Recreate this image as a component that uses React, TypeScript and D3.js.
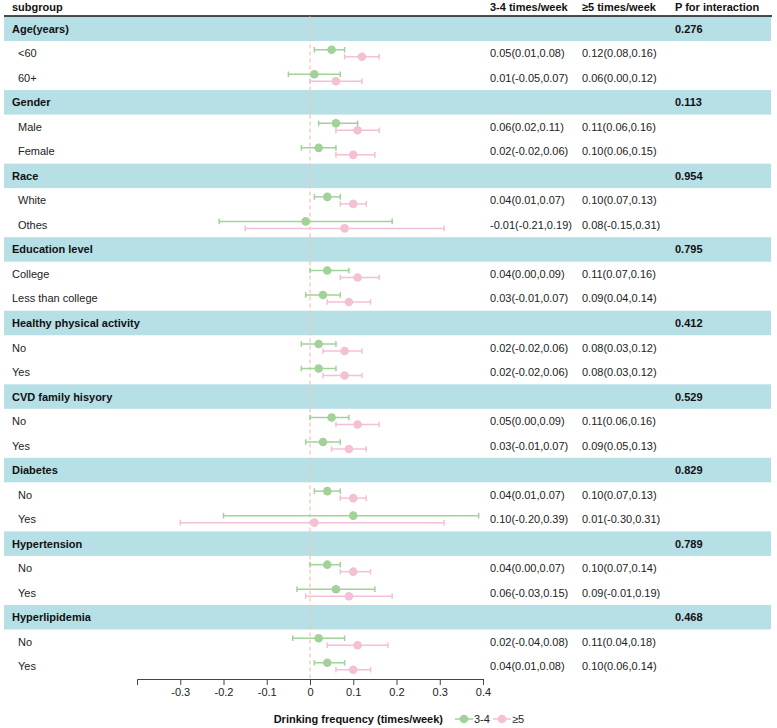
import React, { useEffect, useRef } from "react";
import * as d3 from "d3";

// subgroup table: group headers with their p for interaction, then sub rows
const groups = [
  "Age(years)",
  "Gender",
  "Race",
  "Education level",
  "Healthy physical activity",
  "CVD family hisyory",
  "Diabetes",
  "Hypertension",
  "Hyperlipidemia",
];
const pInteraction = ["0.276", "0.113", "0.954", "0.795", "0.412", "0.529", "0.829", "0.789", "0.468"];
const subLabels = [
  ["<60", "60+"],
  ["Male", "Female"],
  ["White", "Othes"],
  ["College", "Less than college"],
  ["No", "Yes"],
  ["No", "Yes"],
  ["No", "Yes"],
  ["No", "Yes"],
  ["No", "Yes"],
];
// sub labels of these groups carry a leading indent
const indented = [true, true, true, false, false, false, true, true, true];
// [estimate, lower, upper] for 3-4 times/week
const est34 = [
  [[0.05, 0.01, 0.08], [0.01, -0.05, 0.07]],
  [[0.06, 0.02, 0.11], [0.02, -0.02, 0.06]],
  [[0.04, 0.01, 0.07], [-0.01, -0.21, 0.19]],
  [[0.04, 0.0, 0.09], [0.03, -0.01, 0.07]],
  [[0.02, -0.02, 0.06], [0.02, -0.02, 0.06]],
  [[0.05, 0.0, 0.09], [0.03, -0.01, 0.07]],
  [[0.04, 0.01, 0.07], [0.1, -0.2, 0.39]],
  [[0.04, 0.0, 0.07], [0.06, -0.03, 0.15]],
  [[0.02, -0.04, 0.08], [0.04, 0.01, 0.08]],
];
// [estimate, lower, upper] for >=5 times/week
const est5 = [
  [[0.12, 0.08, 0.16], [0.06, 0.0, 0.12]],
  [[0.11, 0.06, 0.16], [0.1, 0.06, 0.15]],
  [[0.1, 0.07, 0.13], [0.08, -0.15, 0.31]],
  [[0.11, 0.07, 0.16], [0.09, 0.04, 0.14]],
  [[0.08, 0.03, 0.12], [0.08, 0.03, 0.12]],
  [[0.11, 0.06, 0.16], [0.09, 0.05, 0.13]],
  [[0.1, 0.07, 0.13], [0.01, -0.3, 0.31]],
  [[0.1, 0.07, 0.14], [0.09, -0.01, 0.19]],
  [[0.11, 0.04, 0.18], [0.1, 0.06, 0.14]],
];
const xTicks = [-0.3, -0.2, -0.1, 0, 0.1, 0.2, 0.3, 0.4];
const seriesNames = ["3-4", "≥5"];

const W = 777;
const H = 728;
const FONT = "Arial, 'Liberation Sans', sans-serif";
const GREEN = "#a2d19a";
const PINK = "#f3c0d4";
const BAND = "#b6dfe6";

// plain hyphen for negatives, not the unicode minus d3.format gives
const f2 = (n: number) => n.toFixed(2);
const fmt = (v: number[]) => `${f2(v[0])}(${f2(v[1])},${f2(v[2])})`;

type Row =
  | { kind: "group"; label: string; p: string }
  | { kind: "sub"; label: string; indent: boolean; a: number[]; b: number[] };

const rows: Row[] = [];
groups.forEach((g, i) => {
  rows.push({ kind: "group", label: g, p: pInteraction[i] });
  subLabels[i].forEach((s, j) => {
    rows.push({ kind: "sub", label: s, indent: indented[i], a: est34[i][j], b: est5[i][j] });
  });
});

export default function App() {
  const ref = useRef<SVGSVGElement>(null);

  useEffect(() => {
    const svg = d3.select(ref.current);
    svg.selectAll("*").remove();
    svg.style("font-family", FONT);

    const top = 16.5;
    const bottom = 678.5;
    const y = d3
      .scaleBand<number>()
      .domain(d3.range(rows.length))
      .range([top, bottom]);
    const x = d3.scaleLinear().domain([-0.4, 0.4]).range([137, 483]);

    const colA = 490;
    const colB = 582;
    const colP = 675;

    // header
    const head = svg.append("g").attr("font-size", 11).attr("font-weight", "bold").attr("fill", "#111");
    head.append("text").attr("x", 12).attr("y", 11).text("subgroup");
    head.append("text").attr("x", colA).attr("y", 11).text("3-4 times/week");
    head.append("text").attr("x", colB).attr("y", 11).text("≥5 times/week");
    head.append("text").attr("x", colP).attr("y", 11).text("P for interaction");

    // group bands
    svg
      .append("g")
      .selectAll("rect")
      .data(rows.map((r, i) => ({ r, i })).filter((d) => d.r.kind === "group"))
      .enter()
      .append("rect")
      .attr("x", 4)
      .attr("width", 767)
      .attr("y", (d) => y(d.i)!)
      .attr("height", y.bandwidth())
      .attr("fill", BAND);

    svg
      .append("line")
      .attr("x1", 4)
      .attr("x2", 772)
      .attr("y1", 16)
      .attr("y2", 16)
      .attr("stroke", "#111")
      .attr("stroke-width", 1.5);

    // labels and text columns
    const txt = svg.append("g").attr("font-size", 11).attr("fill", "#222");
    rows.forEach((r, i) => {
      const cy = y(i)! + y.bandwidth() / 2 + 4;
      if (r.kind === "group") {
        txt.append("text").attr("x", 12).attr("y", cy).attr("font-weight", "bold").attr("fill", "#111").text(r.label);
        txt.append("text").attr("x", colP).attr("y", cy).attr("font-weight", "bold").attr("fill", "#111").text(r.p);
      } else {
        txt.append("text").attr("x", r.indent ? 18 : 12).attr("y", cy).text(r.label);
        txt.append("text").attr("x", colA).attr("y", cy).text(fmt(r.a));
        txt.append("text").attr("x", colB).attr("y", cy).text(fmt(r.b));
      }
    });

    // reference line at zero
    svg
      .append("line")
      .attr("x1", x(0))
      .attr("x2", x(0))
      .attr("y1", top)
      .attr("y2", bottom)
      .attr("stroke", "#f4c6ae")
      .attr("stroke-width", 1.2)
      .attr("stroke-dasharray", "4,3");

    // error bars
    const drawCI = (g: any, v: number[], cy: number, color: string) => {
      g.append("line")
        .attr("x1", x(v[1]))
        .attr("x2", x(v[2]))
        .attr("y1", cy)
        .attr("y2", cy)
        .attr("stroke", color)
        .attr("stroke-width", 1.5);
      [v[1], v[2]].forEach((e) =>
        g.append("line")
          .attr("x1", x(e))
          .attr("x2", x(e))
          .attr("y1", cy - 2.8)
          .attr("y2", cy + 2.8)
          .attr("stroke", color)
          .attr("stroke-width", 1.5)
      );
      g.append("circle").attr("cx", x(v[0])).attr("cy", cy).attr("r", 4.3).attr("fill", color);
    };
    const marks = svg.append("g");
    rows.forEach((r, i) => {
      if (r.kind !== "sub") return;
      const c = y(i)! + y.bandwidth() / 2;
      drawCI(marks, r.a, c - 3.5, GREEN);
      drawCI(marks, r.b, c + 3.5, PINK);
    });

    // x axis
    const axis = svg
      .append("g")
      .attr("transform", `translate(0,${bottom + 0.5})`)
      .call(
        d3
          .axisBottom(x)
          .tickValues(xTicks)
          .tickSizeOuter(0)
          .tickSize(6)
          .tickFormat((d) => String(+(+d).toFixed(1)))
      );
    axis.select(".domain").attr("stroke", "#444");
    axis.selectAll(".tick line").attr("stroke", "#444");
    axis.selectAll(".tick text").attr("font-size", 11).attr("font-family", FONT).attr("fill", "#222");

    // legend
    const lg = svg.append("g").attr("font-size", 11);
    lg.append("text")
      .attr("x", 443)
      .attr("y", 723)
      .attr("text-anchor", "end")
      .attr("font-weight", "bold")
      .attr("fill", "#111")
      .text("Drinking frequency (times/week)");
    const items = [
      { name: seriesNames[0], color: GREEN, x0: 455 },
      { name: seriesNames[1], color: PINK, x0: 493 },
    ];
    items.forEach((it) => {
      lg.append("line")
        .attr("x1", it.x0)
        .attr("x2", it.x0 + 18)
        .attr("y1", 719)
        .attr("y2", 719)
        .attr("stroke", it.color)
        .attr("stroke-width", 1.5);
      lg.append("circle").attr("cx", it.x0 + 9).attr("cy", 719).attr("r", 4.3).attr("fill", it.color);
      lg.append("text").attr("x", it.x0 + 19).attr("y", 723).attr("fill", "#222").text(it.name);
    });
  }, []);

  return (
    <svg
      ref={ref}
      width={W}
      height={H}
      style={{ position: "absolute", left: 0, top: 0, background: "#fff" }}
    />
  );
}
